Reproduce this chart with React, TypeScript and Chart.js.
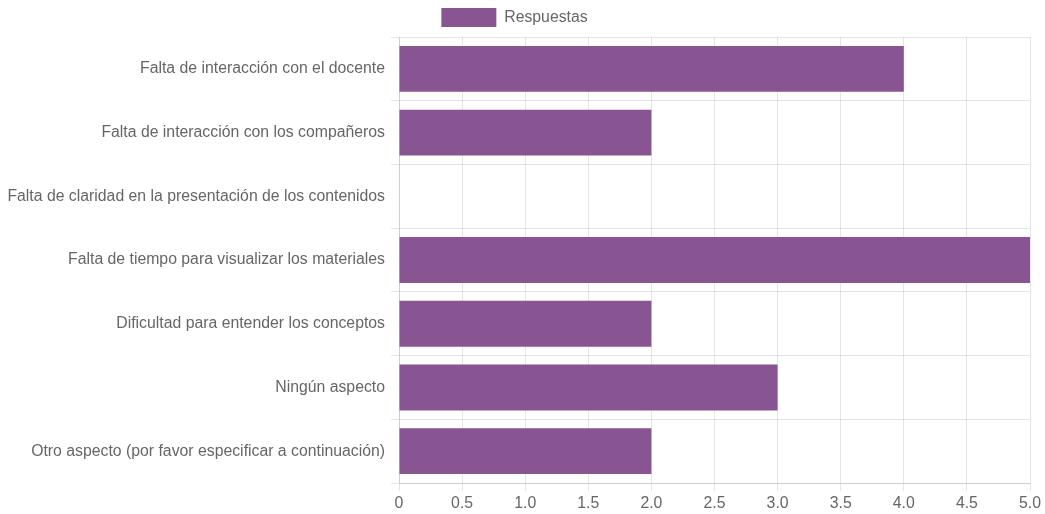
import React, { useEffect, useRef } from "react";
import { Chart, registerables } from "chart.js";

Chart.register(...registerables);

const categories = [
  "Falta de interacción con el docente",
  "Falta de interacción con los compañeros",
  "Falta de claridad en la presentación de los contenidos",
  "Falta de tiempo para visualizar los materiales",
  "Dificultad para entender los conceptos",
  "Ningún aspecto",
  "Otro aspecto (por favor especificar a continuación)",
];
const seriesLabel = "Respuestas";
const values = [4, 2, 0, 5, 2, 3, 2];

export default function App() {
  const ref = useRef<HTMLCanvasElement | null>(null);
  useEffect(() => {
    if (!ref.current) return;
    const font = { family: "'Helvetica Neue', Helvetica, Arial, 'Liberation Sans', sans-serif", size: 15.8 };
    const chart = new Chart(ref.current, {
      type: "bar",
      data: {
        labels: categories,
        datasets: [
          {
            label: seriesLabel,
            data: values,
            backgroundColor: "#885491",
            borderColor: "#885491",
            borderWidth: 0,
          },
        ],
      },
      options: {
        indexAxis: "y",
        animation: false,
        responsive: true,
        maintainAspectRatio: false,
        layout: { padding: { top: -2, right: 15, left: -1, bottom: -2 } },
        plugins: {
          legend: {
            display: true,
            labels: { boxWidth: 55, boxHeight: 19, color: "#666", font },
          },
          tooltip: { enabled: false },
        },
        scales: {
          x: {
            min: 0,
            max: 5,
            ticks: {
              stepSize: 0.5,
              color: "#666",
              font,
              callback: (v: any) => (Number(v) === 0 ? "0" : Number(v).toFixed(1)),
            },
            grid: { color: "rgba(0,0,0,0.1)" },
          },
          y: {
            afterFit: (scale: any) => {
              scale.width = 400;
            },
            ticks: { color: "#666", font, padding: 6 },
            grid: { color: "rgba(0,0,0,0.1)" },
          },
        },
      },
    });
    return () => chart.destroy();
  }, []);
  return (
    <div style={{ position: "absolute", left: 0, top: 0, width: 1045, height: 514 }}>
      <canvas ref={ref} />
    </div>
  );
}
